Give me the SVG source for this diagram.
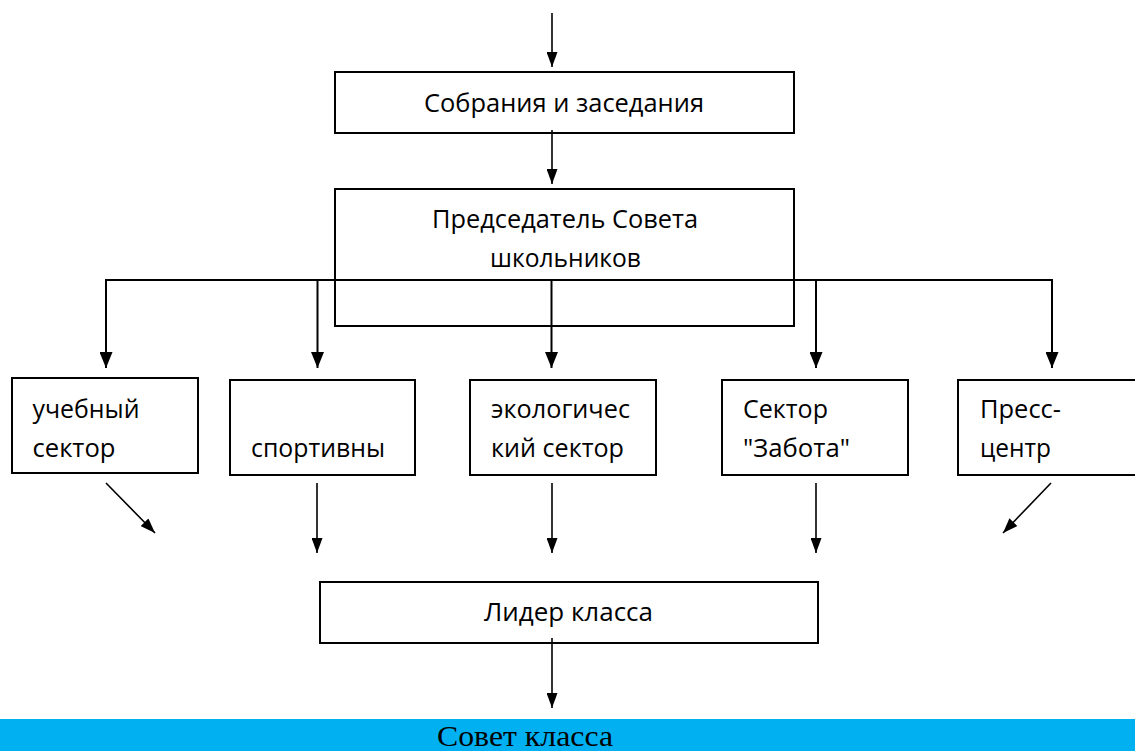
<svg xmlns="http://www.w3.org/2000/svg" width="1135" height="751" viewBox="0 0 1135 751">
<style>
.box{fill:#fff;stroke:#000;stroke-width:2}
.t{font-family:"Open Sans","Noto Sans",sans-serif;font-size:25px;fill:#000}
.c{fill:none;stroke:#000;stroke-width:2}
.cb{fill:none;stroke:#000;stroke-width:2;marker-end:url(#ah)}
.ct{fill:none;stroke:#000;stroke-width:1.6;marker-end:url(#ah2)}
</style>
<defs>
<marker id="ah" markerUnits="userSpaceOnUse" markerWidth="16" markerHeight="13" refX="16" refY="6.5" orient="auto" viewBox="0 0 16 13">
<path d="M0,0 L16,6.5 L0,13 Z" fill="#000"/>
</marker>
<marker id="ah2" markerUnits="userSpaceOnUse" markerWidth="15" markerHeight="11" refX="15" refY="5.5" orient="auto" viewBox="0 0 15 11">
<path d="M0,0 L15,5.5 L0,11 Z" fill="#000"/>
</marker>
</defs>
<rect x="0" y="0" width="1135" height="751" fill="#fff"/>

<g id="n1">
<rect class="box" x="335" y="72" width="459" height="61"/>
<text class="t" x="424" y="112" textLength="280" lengthAdjust="spacingAndGlyphs">Собрания и заседания</text>
</g>
<g id="n2">
<rect class="box" x="335" y="189" width="459" height="137"/>
<text class="t" x="432" y="228" textLength="266" lengthAdjust="spacingAndGlyphs">Председатель Совета</text>
<text class="t" x="490" y="267" textLength="151" lengthAdjust="spacingAndGlyphs">школьников</text>
</g>
<g id="n3">
<rect class="box" x="12" y="378" width="186" height="95"/>
<text class="t" x="32.5" y="418" textLength="107" lengthAdjust="spacingAndGlyphs">учебный</text>
<text class="t" x="32.5" y="457" textLength="83" lengthAdjust="spacingAndGlyphs">сектор</text>
</g>
<g id="n4">
<rect class="box" x="230" y="380" width="185" height="95"/>
<text class="t" x="251" y="457" textLength="134" lengthAdjust="spacingAndGlyphs">спортивны</text>
</g>
<g id="n5">
<rect class="box" x="470" y="380" width="186" height="95"/>
<text class="t" x="491" y="418" textLength="139" lengthAdjust="spacingAndGlyphs">экологичес</text>
<text class="t" x="491" y="457" textLength="133" lengthAdjust="spacingAndGlyphs">кий сектор</text>
</g>
<g id="n6">
<rect class="box" x="722" y="380" width="186" height="95"/>
<text class="t" x="743" y="418" textLength="85" lengthAdjust="spacingAndGlyphs">Сектор</text>
<text class="t" x="743" y="457" textLength="107" lengthAdjust="spacingAndGlyphs">"Забота"</text>
</g>
<g id="n7">
<rect class="box" x="958" y="380" width="186" height="95"/>
<text class="t" x="980" y="418" textLength="81" lengthAdjust="spacingAndGlyphs">Пресс-</text>
<text class="t" x="980" y="457" textLength="71" lengthAdjust="spacingAndGlyphs">центр</text>
</g>
<g id="n8">
<rect class="box" x="320" y="582" width="498" height="61"/>
<text class="t" x="484" y="621" textLength="169" lengthAdjust="spacingAndGlyphs">Лидер класса</text>
</g>
<g id="n9">
<rect x="0" y="719" width="1135" height="32" fill="#00B0F0"/>
<text x="437" y="746" font-family="'Liberation Serif','Times New Roman',serif" font-size="29" fill="#000" textLength="176" lengthAdjust="spacingAndGlyphs">Совет класса</text>
</g>

<g id="connectors">
<line class="ct" x1="552" y1="13" x2="552" y2="67"/>
<line class="ct" x1="552" y1="130" x2="552" y2="184"/>
<line class="c" x1="106" y1="280" x2="1052" y2="280"/>
<line class="cb" x1="106" y1="279" x2="106" y2="368"/>
<line class="cb" x1="317.5" y1="280" x2="317.5" y2="368"/>
<line class="cb" x1="551.5" y1="280" x2="551.5" y2="368"/>
<line class="cb" x1="816" y1="280" x2="816" y2="368"/>
<line class="cb" x1="1052" y1="279" x2="1052" y2="368"/>
<line class="ct" x1="106" y1="483" x2="155" y2="533"/>
<line class="ct" x1="317" y1="483" x2="317" y2="553"/>
<line class="ct" x1="552" y1="483" x2="552" y2="553"/>
<line class="ct" x1="816" y1="483" x2="816" y2="553"/>
<line class="ct" x1="1051" y1="483" x2="1003" y2="533"/>
<line class="ct" x1="552" y1="638" x2="552" y2="708"/>
</g>
</svg>
